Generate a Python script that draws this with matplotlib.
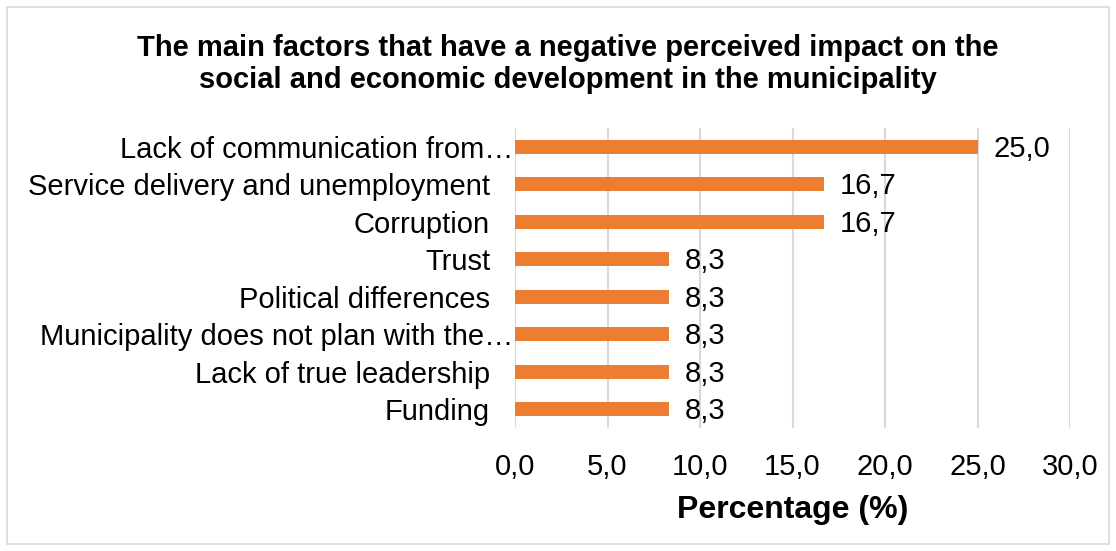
import matplotlib.pyplot as plt
from matplotlib.patches import Rectangle
from matplotlib.transforms import ScaledTranslation

plt.rcParams['font.family'] = ['Liberation Sans', 'DejaVu Sans']

# survey results, top to bottom
factors = ['Lack of communication from\u2026',
           'Service delivery and unemployment',
           'Corruption',
           'Trust',
           'Political differences',
           'Municipality does not plan with the\u2026',
           'Lack of true leadership',
           'Funding']
percent = [25.0, 16.7, 16.7, 8.3, 8.3, 8.3, 8.3, 8.3]
xticks = [0, 5, 10, 15, 20, 25, 30]

fs = 21

fig = plt.figure(figsize=(11.16, 5.51), dpi=100)
ax = fig.add_axes([515/1116, 1 - 428/551, 555/1116, 300/551])

ypos = list(range(len(factors)))[::-1]
ax.barh(ypos, percent, height=0.37, color='#ED7D31', zorder=3)
for y, v in zip(ypos, percent):
    ax.text(v + 0.85, y - 0.05, f'{v:.1f}'.replace('.', ','), va='center', ha='left',
            fontsize=fs, color='black')

ax.set_xlim(0, 30)
ax.set_ylim(-0.5, len(factors) - 0.5)
ax.set_xticks(xticks)
ax.set_xticklabels([f'{t:.1f}'.replace('.', ',') for t in xticks], fontsize=fs)
ax.set_yticks(ypos)
ax.set_yticklabels(factors, fontsize=fs)
ax.tick_params(axis='both', length=0, colors='black')
ax.tick_params(axis='y', pad=18)
ax.tick_params(axis='x', pad=18)
# truncated labels sit closer to the axis
for lbl in ax.get_yticklabels():
    if lbl.get_text().endswith('\u2026'):
        lbl.set_transform(lbl.get_transform() + ScaledTranslation(0.23, 0, fig.dpi_scale_trans))
ax.grid(axis='x', color='#d9d9d9', linewidth=1.5, zorder=0)
for s in ax.spines.values():
    s.set_visible(False)

ax.set_xlabel('Percentage (%)', fontsize=23, fontweight='bold', labelpad=10)

fig.text(568/1116, 1 - 64/551,
         'The main factors that have a negative perceived impact on the\n'
         'social and economic development in the municipality',
         ha='center', va='center', fontsize=fs, fontweight='bold', linespacing=1.2)

fig.patches.append(Rectangle((7/1116, 7/551), 1 - 14/1116, 1 - 14/551, transform=fig.transFigure,
                             fill=False, edgecolor='#d9d9d9', linewidth=1.2))

fig.savefig('out.png', dpi=100)
